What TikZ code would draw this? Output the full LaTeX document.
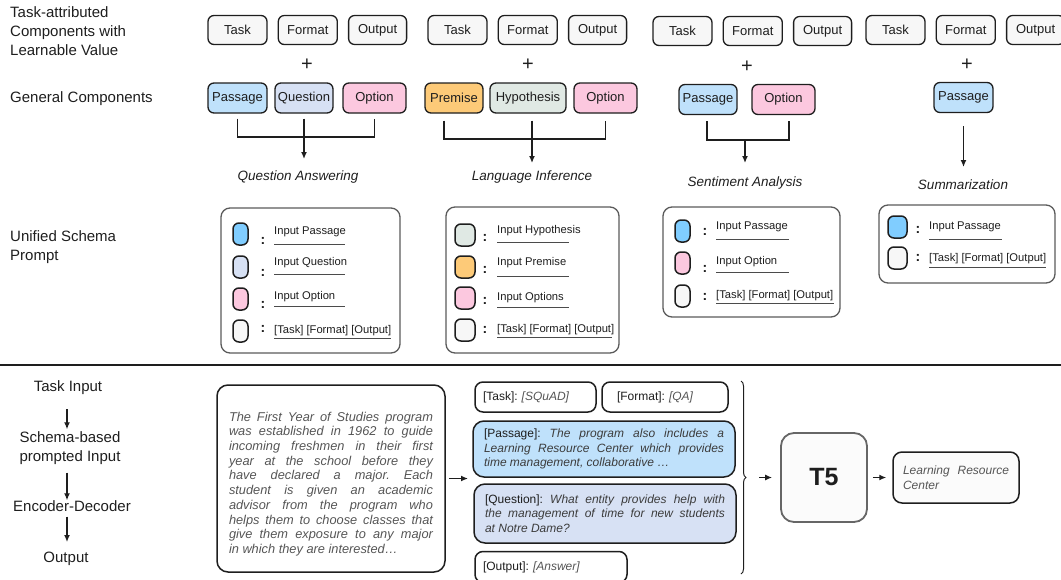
\documentclass[tikz,border=0pt]{standalone}
\usepackage{fontspec}
\setmainfont{Liberation Sans}
\usetikzlibrary{positioning,calc,arrows.meta,decorations.pathreplacing}

\definecolor{ink}{HTML}{1E1E1E}
\definecolor{boxfill}{HTML}{F7F7F7}
\definecolor{passfill}{HTML}{BFE1FB}
\definecolor{quesfill}{HTML}{D7E1F4}
\definecolor{optfill}{HTML}{FCC8DF}
\definecolor{premfill}{HTML}{FDCA78}
\definecolor{hypfill}{HTML}{E0E9E4}
\definecolor{swatchblue}{HTML}{80CDFF}
\definecolor{ctxgray}{HTML}{555555}
\definecolor{exgray}{HTML}{3C3C3C}
\definecolor{schemaedge}{HTML}{5A5A5A}
\definecolor{tfiveedge}{HTML}{666666}

\tolerance=10000
\hbadness=10000
\frenchspacing

\begin{document}
\begin{tikzpicture}[
    x=1pt, y=-1pt,
    comp/.style={draw=ink, line width=1.3pt, rounded corners=6pt, fill=boxfill,
      minimum height=29, inner sep=0pt, text=ink, font=\fontsize{13}{15}\selectfont},
    side/.style={anchor=west, inner sep=0pt, align=left, text=ink,
      font=\fontsize{15}{19}\selectfont},
    flow/.style={inner sep=0pt, align=center, text=ink, font=\fontsize{15}{19}\selectfont},
    plus/.style={inner sep=0pt, text=ink, font=\fontsize{20}{20}\selectfont},
    taskname/.style={inner sep=0pt, text=ink, font=\fontsize{13.5}{16}\selectfont\itshape},
    link/.style={draw=ink, line width=1.3pt},
    arr/.style={link, -{Latex[length=7pt,width=6pt]}},
    schema/.style={draw=schemaedge, line width=1.3pt, rounded corners=9pt},
    swatch/.style={draw=ink, line width=1.5pt, rounded corners=6pt, minimum height=22, inner sep=0pt},
    colon/.style={inner sep=0pt, text=ink, font=\fontsize{14}{14}\selectfont\bfseries},
    field/.style={anchor=west, inner sep=0pt, text=ink, font=\fontsize{11.2}{13}\selectfont},
    uline/.style={draw=ink!80, line width=0.9pt},
    ctxbox/.style={draw=ink, line width=1.5pt, rounded corners=11pt},
    ctxtext/.style={inner sep=0pt, align=justify, text=ctxgray,
      font=\fontsize{12.8}{14.7}\selectfont\itshape},
    slot/.style={draw=ink, line width=1.5pt, rounded corners=8pt, fill=white, inner ysep=0pt,
      text=ink, align=left, font=\fontsize{12}{14.3}\selectfont},
    tfive/.style={draw=tfiveedge, line width=1.8pt, rounded corners=13pt, fill=boxfill!50,
      text=ink, font=\fontsize{25}{25}\selectfont\bfseries}
  ]
  \useasboundingbox (0,0) rectangle (1061,579);

  % row labels on the left
  \node[side] (lbl-attr) at (10,31.5) {Task-attributed\\Components with\\Learnable Value};
  \node[side] (lbl-gen) at (10,99) {General Components};
  \node[side] (lbl-schema) at (10,247) {Unified Schema\\Prompt};

  % task-attributed components, one group per task
  \foreach \g/\x/\y in {qa/237.5/30, li/457.5/30, sa/682.5/31, su/895.5/30}{
    \node[comp, minimum width=59] (\g-task) at (\x,\y) {Task};
    \node[comp, minimum width=59, right=10pt of \g-task] (\g-format) {Format};
    \node[comp, minimum width=58, right=10pt of \g-format] (\g-output) {Output};
  }
  \node[plus] (qa-plus) at (307,65) {+};
  \node[plus] (li-plus) at (528,65) {+};
  \node[plus] (sa-plus) at (747,67) {+};
  \node[plus] (su-plus) at (967,65) {+};

  % general components
  \node[comp, minimum width=59, minimum height=30, fill=passfill] (qa-pass) at (237.5,98) {Passage};
  \node[comp, minimum width=58, minimum height=30, fill=quesfill] (qa-ques) at (304,98) {Question};
  \node[comp, minimum width=63, minimum height=30, fill=optfill] (qa-opt) at (374.5,98) {Option};
  \node[comp, minimum width=58, minimum height=30, fill=premfill] (li-prem) at (454,98) {Premise};
  \node[comp, minimum width=76, minimum height=30, fill=hypfill] (li-hyp) at (528,98) {Hypothesis};
  \node[comp, minimum width=63, minimum height=30, fill=optfill] (li-opt) at (605.5,98) {Option};
  \node[comp, minimum width=58, minimum height=30, fill=passfill] (sa-pass) at (708,99.5) {Passage};
  \node[comp, minimum width=63, minimum height=30, fill=optfill] (sa-opt) at (783.5,99.5) {Option};
  \node[comp, minimum width=59, minimum height=30, fill=passfill] (su-pass) at (963.5,97.5) {Passage};

  % task names
  \node[taskname] (qa-name) at (298,177) {Question Answering};
  \node[taskname] (li-name) at (532,177) {Language Inference};
  \node[taskname] (sa-name) at (745,183) {Sentiment Analysis};
  \node[taskname] (su-name) at (963,185) {Summarization};

  % brackets joining the components
  \coordinate (qa-join) at (304,137);
  \coordinate (qa-tip) at (304,159);
  \draw[link] ([yshift=-5pt]qa-pass.south) |- (qa-join) -| ([yshift=-5pt]qa-opt.south);
  \draw[arr] ([yshift=-5pt]qa-ques.south) -- (qa-tip);
  \coordinate (li-join) at (532,139);
  \coordinate (li-tip) at (532,163);
  \draw[link] ([xshift=-10pt,yshift=-7pt]li-prem.south) |- (li-join) -| ([yshift=-7pt]li-opt.south);
  \draw[arr] ([xshift=4pt,yshift=-7pt]li-hyp.south) -- (li-tip);
  \coordinate (sa-join) at (745,140);
  \coordinate (sa-tip) at (745,163);
  \draw[link] ([xshift=-1pt,yshift=-6pt]sa-pass.south) |- (sa-join) -| ([xshift=5.5pt,yshift=-6pt]sa-opt.south);
  \draw[arr] (sa-join) -- (sa-tip);
  \coordinate (su-tip) at (963.5,167);
  \draw[arr] ([yshift=-13pt]su-pass.south) -- (su-tip);

  % unified schema prompts
  \node[schema, minimum width=179, minimum height=145] (qa-schema) at (310.5,280.5) {};
  \foreach \sy/\cy/\ty/\uy/\col/\txt/\ul [count=\i] in {
      234/241/232/244/swatchblue/Input Passage/71,
      267/273/263/274/quesfill/Input Question/71,
      299/305/297/306/optfill/Input Option/71,
      331/329/331/338/boxfill/{[Task] [Format] [Output]}/117}{
    \node[swatch, minimum width=15, fill=\col] (qa-sw-\i) at (240.5,\sy) {};
    \node[colon] (qa-colon-\i) at (263,\cy) {:};
    \node[field] (qa-field-\i) at (274,\ty) {\txt};
    \draw[uline] (274,\uy) -- ++(\ul,0);
  }

  \node[schema, minimum width=173, minimum height=146] (li-schema) at (532.5,280) {};
  \foreach \sy/\cy/\ty/\uy/\col/\txt/\ul [count=\i] in {
      235/238/231/242/hypfill/Input Hypothesis/72,
      267/270/263/276/premfill/Input Premise/72,
      298/301/298/307/optfill/Input Options/72,
      330/330/330/337/boxfill/{[Task] [Format] [Output]}/115}{
    \node[swatch, minimum width=20, fill=\col] (li-sw-\i) at (465,\sy) {};
    \node[colon] (li-colon-\i) at (485,\cy) {:};
    \node[field] (li-field-\i) at (497,\ty) {\txt};
    \draw[uline] (497,\uy) -- ++(\ul,0);
  }

  \node[schema, minimum width=177, minimum height=110] (sa-schema) at (751.5,262) {};
  \foreach \sy/\cy/\ty/\uy/\col/\txt/\ul [count=\i] in {
      231/232/227/239/swatchblue/Input Passage/73,
      263/269/262/272/optfill/Input Option/73,
      296/297/296/303/boxfill/{[Task] [Format] [Output]}/118}{
    \node[swatch, minimum width=15, fill=\col] (sa-sw-\i) at (682.5,\sy) {};
    \node[colon] (sa-colon-\i) at (705,\cy) {:};
    \node[field] (sa-field-\i) at (716,\ty) {\txt};
    \draw[uline] (716,\uy) -- ++(\ul,0);
  }

  \node[schema, minimum width=176, minimum height=78] (su-schema) at (967,244) {};
  \foreach \sy/\cy/\ty/\uy/\col/\txt/\ul [count=\i] in {
      227/230/227/239/swatchblue/Input Passage/73,
      258/258/259/267/boxfill/{[Task] [Format] [Output]}/117}{
    \node[swatch, minimum width=19, fill=\col] (su-sw-\i) at (897.5,\sy) {};
    \node[colon] (su-colon-\i) at (918,\cy) {:};
    \node[field] (su-field-\i) at (929,\ty) {\txt};
    \draw[uline] (929,\uy) -- ++(\ul,0);
  }

  % separator
  \draw[link] (0,365) -- (1061,365);

  % pipeline steps
  \node[flow] (flow-in) at (68,388) {Task Input};
  \node[flow] (flow-schema) at (70,448) {Schema-based\\prompted Input};
  \node[flow] (flow-enc) at (72,506) {Encoder-Decoder};
  \node[flow] (flow-out) at (66,559) {Output};
  \draw[arr, shorten <=14pt, shorten >=2pt] (flow-in.south -| 67,0) -- (flow-schema.north -| 67,0);
  \draw[arr, shorten <=8pt, shorten >=0pt] (flow-schema.south -| 67,0) -- (flow-enc.north -| 67,0);
  \draw[arr, shorten <=5pt, shorten >=10pt] (flow-enc.south -| 67,0) -- (flow-out.north -| 67,0);

  % task input text
  \node[ctxbox, minimum width=228, minimum height=187] (ctx) at (331,478.5) {};
  \node[ctxtext, text width=204] (ctx-text) at (331,484) {The First Year of Studies program\linebreak
    was established in 1962 to guide\linebreak
    incoming freshmen in their first\linebreak
    year at the school before they\linebreak
    have declared a major. Each\linebreak
    student is given an academic\linebreak
    advisor from the program who\linebreak
    helps them to choose classes that\linebreak
    give them exposure to any major\linebreak
    in which they are interested…};
  \coordinate (ex-in) at (468,478.5);
  \draw[arr, shorten <=3pt] (ctx) -- (ex-in);

  % schema-based prompted input
  \node[slot, text width=105, inner xsep=8pt, minimum height=30] (ex-task) at (535.5,397)
    {[Task]: {\itshape\color{ctxgray}[SQuAD]}};
  \node[slot, text width=96, inner xsep=15pt, minimum height=30] (ex-format) at (665,397)
    {[Format]: {\itshape\color{ctxgray}[QA]}};
  \node[slot, fill=passfill, rounded corners=11pt, text width=240, inner xsep=11pt,
    minimum height=56, align=justify] (ex-pass) at (604,449)
    {[Passage]: {\itshape\color{exgray}The program also includes a\linebreak
      Learning Resource Center which provides\linebreak
      time management, collaborative …}};
  \node[slot, fill=quesfill, rounded corners=11pt, text width=240, inner xsep=11pt,
    minimum height=59, align=justify] (ex-ques) at (605,513.5)
    {[Question]: {\itshape\color{exgray}What entity provides help with\linebreak
      the management of time for new students\linebreak
      at Notre Dame?}};
  \node[slot, text width=136, inner xsep=8pt, minimum height=31] (ex-out) at (551,567)
    {[Output]: {\itshape\color{ctxgray}[Answer]}};

  \coordinate (brace-top) at (741,381);
  \coordinate (brace-bot) at (741,574);
  \draw[decorate, decoration={brace, amplitude=5pt}, draw=ink, line width=1pt] (brace-top) -- (brace-bot);

  % model and answer
  \node[tfive, minimum width=86, minimum height=89] (t5) at (824,477.5) {T5};
  \node[slot, fill=boxfill!50, rounded corners=9pt, text width=106, inner xsep=10pt,
    minimum height=51, align=justify, text=ctxgray, font=\fontsize{12}{15}\selectfont\itshape]
    (answer) at (956,477.5) {Learning Resource\linebreak Center};
  \coordinate (brace-tip) at (749,477.5);
  \draw[arr, shorten <=10pt, shorten >=8pt] (brace-tip) -- (t5);
  \draw[arr, shorten <=5pt, shorten >=6pt] (t5) -- (answer);
\end{tikzpicture}
\end{document}
